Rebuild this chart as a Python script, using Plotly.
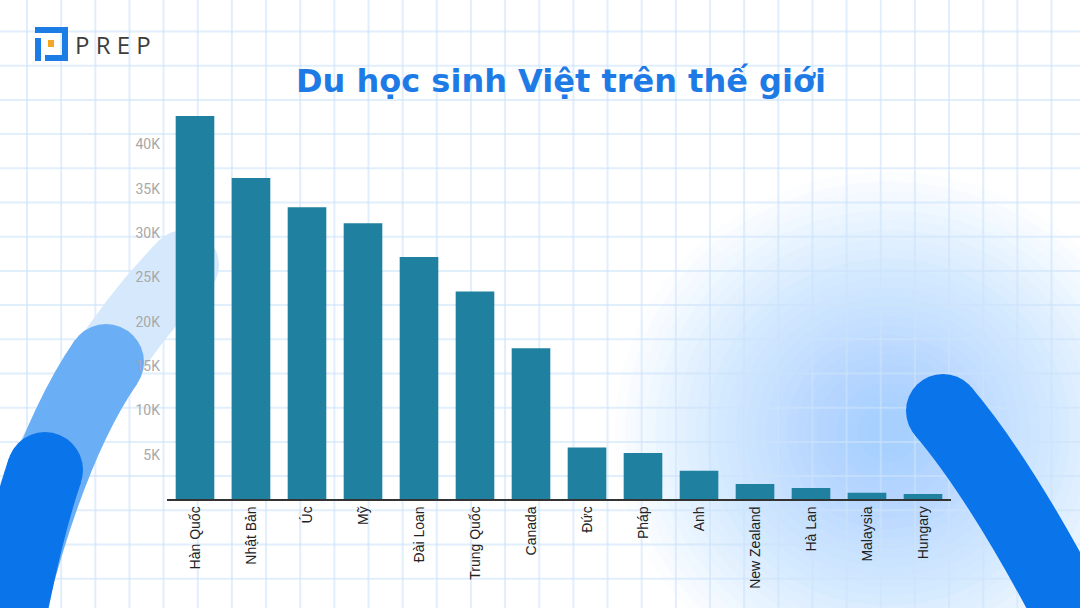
import plotly.graph_objects as go

W, H = 1080, 608

countries = ["Hàn Quốc", "Nhật Bản", "Úc", "Mỹ", "Đài Loan", "Trung Quốc", "Canada",
             "Đức", "Pháp", "Anh", "New Zealand", "Hà Lan", "Malaysia", "Hungary"]
students = [43200, 36200, 32900, 31100, 27300, 23400, 17000,
            5800, 5200, 3200, 1700, 1250, 700, 550]
tick_vals = [5000, 10000, 15000, 20000, 25000, 30000, 35000, 40000]
tick_text = ["5K", "10K", "15K", "20K", "25K", "30K", "35K", "40K"]
title_text = "Du học sinh Việt trên thế giới"


def X(px):
    return px / W


def Y(py):
    return 1 - py / H


shapes = []

# soft blue glow, bottom right
for i in range(26):
    r = 260 - i * 9.6
    shapes.append(dict(type="circle", xref="paper", yref="paper", layer="below",
                       x0=X(888 - r * 1.05), x1=X(888 + r * 1.05),
                       y0=Y(432 + r), y1=Y(432 - r),
                       fillcolor="rgba(80,165,250,0.025)", line_width=0))

# background grid
k = -1
while 27 + 34.15 * k < W + 5:
    x = 27 + 34.15 * k
    shapes.append(dict(type="line", xref="paper", yref="paper", layer="below",
                       x0=X(x), x1=X(x), y0=0, y1=1,
                       line=dict(color="rgba(205,226,250,0.6)", width=2)))
    k += 1
k = -1
while 31.5 + 34.2 * k < H + 5:
    y = 31.5 + 34.2 * k
    shapes.append(dict(type="line", xref="paper", yref="paper", layer="below",
                       x0=0, x1=1, y0=Y(y), y1=Y(y),
                       line=dict(color="rgba(205,226,250,0.6)", width=2)))
    k += 1


def band(points, color, width, cap_at_start=False):
    (x0, y0), (cx, cy), (x1, y1) = points
    path = f"M {X(x0)},{Y(y0)} Q {X(cx)},{Y(cy)} {X(x1)},{Y(y1)}"
    shapes.append(dict(type="path", path=path, xref="paper", yref="paper", layer="below",
                       line=dict(color=color, width=width)))
    r = width / 2
    ex, ey = (x0, y0) if cap_at_start else (x1, y1)
    shapes.append(dict(type="circle", xref="paper", yref="paper", layer="below",
                       x0=X(ex - r), x1=X(ex + r), y0=Y(ey + r), y1=Y(ey - r),
                       fillcolor=color, line_width=0))


# decorative arcs on the left
band([(-10, 600), (70, 380), (184, 265)], "#d6e9fc", 70)
band([(0, 640), (45, 450), (106, 362)], "#6aaef5", 76)
band([(-5, 690), (18, 550), (45, 470)], "#0a74ea", 76)
# arc on the right
band([(943, 411), (1010, 490), (1095, 660)], "#0a74ea", 74, cap_at_start=True)

# PREP logo icon
blue = "#1c7ce6"
for x0, y0, x1, y1 in [(35, 27, 68, 33), (62, 27, 68, 61), (45, 55, 68, 61), (35, 38, 41, 61)]:
    shapes.append(dict(type="rect", xref="paper", yref="paper",
                       x0=X(x0), x1=X(x1), y0=Y(y1), y1=Y(y0),
                       fillcolor=blue, line_width=0))
shapes.append(dict(type="rect", xref="paper", yref="paper",
                   x0=X(48), x1=X(54), y0=Y(47), y1=Y(40),
                   fillcolor="#f5a623", line_width=0))

fig = go.Figure(go.Bar(x=countries, y=students, marker_color="#1f80a0",
                       marker_line_width=0))

fig.update_layout(
    width=W, height=H,
    margin=dict(l=0, r=0, t=0, b=0),
    paper_bgcolor="white",
    plot_bgcolor="rgba(0,0,0,0)",
    bargap=0.31,
    showlegend=False,
    shapes=shapes,
    xaxis=dict(domain=[X(167), X(951)], range=[-0.5, 13.5],
               showline=True, linecolor="#333333", linewidth=1.5,
               showgrid=False, ticks="", tickangle=-90,
               tickfont=dict(family="Liberation Sans, Arial", size=14, color="#222222")),
    yaxis=dict(domain=[Y(499), Y(100)], range=[0, 45000],
               showgrid=False, zeroline=False, showline=False,
               tickvals=tick_vals, ticktext=tick_text, ticks="", ticklabelstandoff=6,
               tickfont=dict(family="Roboto, Liberation Sans", size=14, color="#a8a8a8")),
    annotations=[
        dict(text=f"<b>{title_text}</b>", xref="paper", yref="paper",
             x=X(561), y=Y(81), showarrow=False, xanchor="center", yanchor="middle",
             font=dict(family="DejaVu Sans", size=32, color="#1e7be6")),
        dict(text="P R E P", xref="paper", yref="paper",
             x=X(73), y=Y(44), showarrow=False, xanchor="left", yanchor="middle",
             font=dict(family="Open Sans", size=24, color="#3d3d3d")),
    ],
)

fig.write_html("out.html", config={"displayModeBar": False},
               post_script="document.body.style.margin='0px';")
